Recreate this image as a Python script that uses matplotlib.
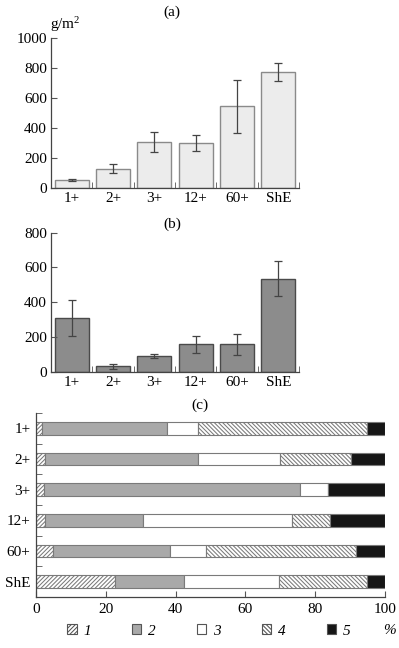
import numpy as np
import matplotlib
matplotlib.use('Agg')
import matplotlib.pyplot as plt
from matplotlib.patches import Patch

plt.rcParams['font.family'] = ['Liberation Serif', 'DejaVu Serif']
plt.rcParams['font.size'] = 11
plt.rcParams['mathtext.default'] = 'regular'
plt.rcParams['hatch.linewidth'] = 0.75
plt.rcParams['hatch.color'] = '#2a2a2a'

groups = ['1+', '2+', '3+', '12+', '60+', 'ShE']

# (a) biomass, g/m2
mass_a = [53, 130, 305, 300, 545, 775]
err_a = [6, 28, 67, 53, 175, 60]

# (b)
mass_b = [310, 30, 90, 158, 158, 535]
err_b = [105, 15, 12, 50, 60, 100]

# (c) composition, % per fraction 1..5
frac_names = ['1', '2', '3', '4', '5']
frac_pct = {
    '1': [1.7, 2.7, 2.2, 2.5, 4.8, 22.5],
    '2': [35.7, 43.8, 73.5, 28.2, 33.6, 20.0],
    '3': [9.1, 23.5, 8.1, 42.6, 10.3, 27.1],
    '4': [48.2, 20.2, 0.0, 11.0, 42.9, 25.3],
    '5': [5.3, 9.8, 16.2, 15.7, 8.4, 5.1],
}
frac_color = ['white', '#a9a9a9', 'white', 'white', '#161616']
frac_hatch = ['////////', None, None, '\\\\\\\\\\\\\\\\', None]

W, H = 399, 648
fig = plt.figure(figsize=(W / 100, H / 100), dpi=100)

def px_axes(x0, y0, x1, y1):
    return fig.add_axes([x0 / W, 1 - y1 / H, (x1 - x0) / W, (y1 - y0) / H])

def bar_panel(ax, vals, errs, face, edge, ymax):
    x = np.arange(len(groups))
    ax.bar(x, vals, width=0.82, color=face, edgecolor=edge, linewidth=1.0)
    ax.errorbar(x, vals, yerr=errs, fmt='none', ecolor='#444444', elinewidth=0.9,
                capsize=3, capthick=0.9)
    ax.set_xlim(-0.5, len(groups) - 0.5)
    ax.set_ylim(0, ymax)
    ax.set_yticks(np.arange(0, ymax + 1, 200))
    ax.set_xticks(x)
    ax.set_xticklabels(groups)
    ax.set_xticks(np.arange(-0.5, len(groups)), minor=True)
    ax.tick_params(axis='x', which='major', length=0, pad=3)
    ax.tick_params(axis='x', which='minor', direction='in', length=4, color='#555555')
    ax.tick_params(axis='y', direction='in', length=4, color='#555555', pad=3)
    for s in ['top', 'right']:
        ax.spines[s].set_visible(False)
    for s in ['left', 'bottom']:
        ax.spines[s].set_color('#444444')
        ax.spines[s].set_linewidth(0.9)

ax_a = px_axes(51, 38, 299, 188)
bar_panel(ax_a, mass_a, err_a, '#ececec', '#8a8a8a', 1000)
fig.text(50 / W, 1 - 25 / H, 'g/m$^2$', ha='left', va='center', fontsize=11)
fig.text(172 / W, 1 - 12 / H, '(a)', ha='center', va='center', fontsize=11)

ax_b = px_axes(51, 232.7, 299, 371.7)
bar_panel(ax_b, mass_b, err_b, '#8c8c8c', '#4a4a4a', 800)
fig.text(172 / W, 1 - 224 / H, '(b)', ha='center', va='center', fontsize=11)

# (c) stacked horizontal bars
ax_c = px_axes(36, 413, 385, 597)
y = np.arange(len(groups))
left = np.zeros(len(groups))
handles = []
for name, col, hat in zip(frac_names, frac_color, frac_hatch):
    vals = np.array(frac_pct[name])
    ax_c.barh(y, vals, left=left, height=0.41, color=col, edgecolor='#7a7a7a',
              linewidth=0.8, hatch=hat)
    left += vals
    handles.append(Patch(facecolor=col, edgecolor='#555555', hatch=hat, linewidth=0.8, label=name))
ax_c.set_ylim(len(groups) - 0.5, -0.5)
ax_c.set_xlim(0, 100)
ax_c.set_yticks(y)
ax_c.set_yticklabels(groups)
ax_c.set_yticks(np.arange(-0.5, len(groups)), minor=True)
ax_c.set_xticks(np.arange(0, 101, 20))
ax_c.tick_params(axis='y', which='major', length=0, pad=4)
ax_c.tick_params(axis='y', which='minor', direction='in', length=4, color='#555555')
ax_c.tick_params(axis='x', direction='in', length=4, color='#555555', pad=4)
for s in ['top', 'right']:
    ax_c.spines[s].set_visible(False)
for s in ['left', 'bottom']:
    ax_c.spines[s].set_color('#444444')
    ax_c.spines[s].set_linewidth(0.9)
fig.text(200 / W, 1 - 405 / H, '(c)', ha='center', va='center', fontsize=11)
fig.text(389 / W, 1 - 630 / H, '%', ha='center', va='center', fontsize=11, style='italic')

leg = fig.legend(handles=handles, loc='center', bbox_to_anchor=(209 / W, 1 - 631 / H),
                 ncol=5, frameon=False, handlelength=0.6, handleheight=0.6,
                 handletextpad=0.45, columnspacing=2.7, prop={'style': 'italic', 'size': 11})

fig.savefig('out.png', dpi=100)
